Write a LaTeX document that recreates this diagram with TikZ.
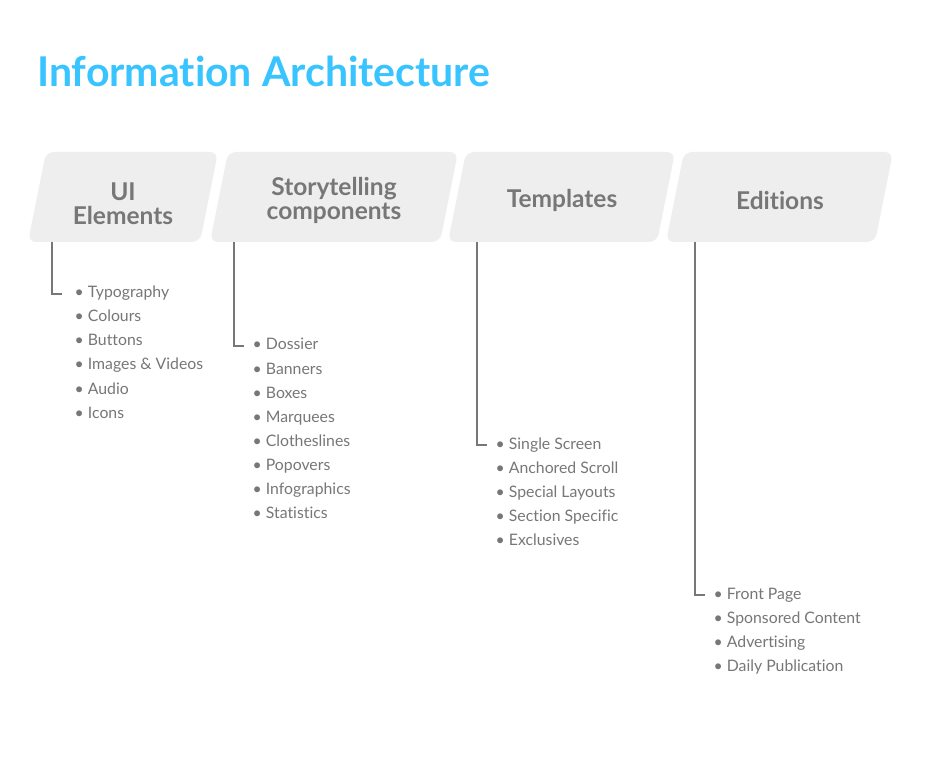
\documentclass[tikz,border=0pt]{standalone}
\usepackage{fontspec}
\setmainfont{Lato}[Ligatures=NoCommon]
\definecolor{ttl}{HTML}{38C4FF}
\definecolor{txt}{HTML}{777777}
\definecolor{boxf}{HTML}{EEEEEE}
\tikzset{
  hdr/.style={font=\fontsize{24.5}{24}\selectfont\bfseries, text=txt, align=center, inner sep=0pt},
  item/.style={font=\fontsize{15.8}{18}\selectfont, text=txt, anchor=base west, inner sep=0pt, text height=10pt, text depth=2pt},
  conn/.style={draw=txt, line width=1.8pt},
  boxshape/.style={fill=boxf, rounded corners=8pt}
}
\begin{document}
\begin{tikzpicture}[x=1pt,y=-1pt]
\useasboundingbox (0,0) rectangle (930,762);
\fill[white] (0,0) rectangle (930,762);
\node[font=\fontsize{41}{46}\selectfont\bfseries, text=ttl, anchor=base west, inner sep=0pt] (title) at (37,87) {Information Architecture};

% boxes
\fill[boxshape] (28,242) -- (46,152) -- (218,152) -- (200,242) -- cycle;
\fill[boxshape] (210,242) -- (228,152) -- (458,152) -- (440,242) -- cycle;
\fill[boxshape] (448,242) -- (466,152) -- (675,152) -- (657,242) -- cycle;
\fill[boxshape] (666,242) -- (684,152) -- (893,152) -- (875,242) -- cycle;

\node[hdr] (h1) at (123,203.5) {UI\\Elements};
\node[hdr] (h2) at (334,200) {Storytelling\\components};
\node[hdr] (h3) at (562,200) {Templates};
\node[hdr] (h4) at (780,200) {Editions};

\coordinate (b1) at (52,242);
\coordinate (b2) at (234,242);
\coordinate (b3) at (477,242);
\coordinate (b4) at (695,242);

% list 1
\node[item] (a1) at (74.5,298) {• Typography};
\node[item] (a2) at (74.5,322) {• Colours};
\node[item] (a3) at (74.5,346) {• Buttons};
\node[item] (a4) at (74.5,370) {• Images \& Videos};
\node[item] (a5) at (74.5,394) {• Audio};
\node[item] (a6) at (74.5,418) {• Icons};
% list 2
\node[item] (s1) at (252.5,350) {• Dossier};
\node[item] (s2) at (252.5,374) {• Banners};
\node[item] (s3) at (252.5,398) {• Boxes};
\node[item] (s4) at (252.5,422) {• Marquees};
\node[item] (s5) at (252.5,446) {• Clotheslines};
\node[item] (s6) at (252.5,470) {• Popovers};
\node[item] (s7) at (252.5,494) {• Infographics};
\node[item] (s8) at (252.5,518) {• Statistics};
% list 3
\node[item] (t1) at (495.5,449) {• Single Screen};
\node[item] (t2) at (495.5,473) {• Anchored Scroll};
\node[item] (t3) at (495.5,497) {• Special Layouts};
\node[item] (t4) at (495.5,521) {• Section Specific};
\node[item] (t5) at (495.5,545) {• Exclusives};
% list 4
\node[item] (e1) at (713.5,599) {• Front Page};
\node[item] (e2) at (713.5,623) {• Sponsored Content};
\node[item] (e3) at (713.5,647) {• Advertising};
\node[item] (e4) at (713.5,671) {• Daily Publication};

\draw[conn] (b1) |- ([xshift=-12.5pt]a1.west);
\draw[conn] (b2) |- ([xshift=-8.5pt]s1.west);
\draw[conn] (b3) |- ([xshift=-8.5pt]t1.west);
\draw[conn] (b4) |- ([xshift=-8.5pt]e1.west);
\end{tikzpicture}
\end{document}
